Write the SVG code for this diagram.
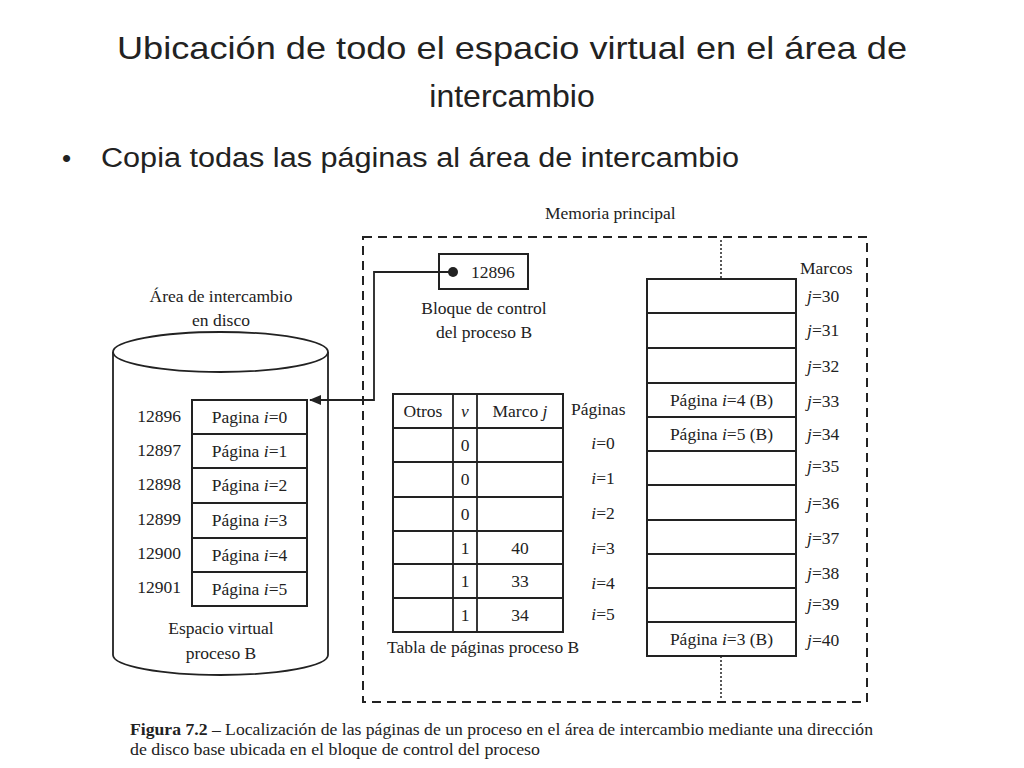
<svg xmlns="http://www.w3.org/2000/svg" width="1024" height="768" viewBox="0 0 1024 768">
<style>
.t{font-family:"Liberation Sans",Arial,sans-serif;fill:#222}
.s{font-family:"Liberation Serif","Times New Roman",serif;font-size:17.5px;fill:#222}
.m{text-anchor:middle}
.b{fill:#fff;stroke:#222;stroke-width:2}
.ln{fill:none;stroke:#222;stroke-width:1.8}
.i{font-style:italic}
</style>
<defs>
<marker id="ah" markerWidth="12" markerHeight="10" refX="11" refY="5" orient="auto" markerUnits="userSpaceOnUse">
<path d="M0,0 L12,5 L0,10 z" fill="#222"/>
</marker>
</defs>
<rect width="1024" height="768" fill="#fff"/>
<g id="title">
<text class="t m" x="512" y="59" font-size="32" textLength="790" lengthAdjust="spacingAndGlyphs">Ubicación de todo el espacio virtual en el área de</text>
<text class="t m" x="512" y="107" font-size="32">intercambio</text>
</g>
<g id="bullet">
<text class="t" x="62" y="167" font-size="26">•</text>
<text class="t" x="101" y="167" font-size="27" textLength="638" lengthAdjust="spacingAndGlyphs">Copia todas las páginas al área de intercambio</text>
</g>
<g id="memoria">
<text class="s" x="545" y="219">Memoria principal</text>
<rect x="363" y="237" width="504" height="465" fill="none" stroke="#222" stroke-width="2" stroke-dasharray="9,6"/>
</g>
<g id="disco">
<text class="s m" x="221" y="302">Área de intercambio</text>
<text class="s m" x="221" y="326">en disco</text>
<path class="ln" d="M113,352 L113,655 A107.5,20 0 0 0 328,655 L328,352"/>
<ellipse cx="220.5" cy="352" rx="107.5" ry="20" fill="#fff" stroke="#222" stroke-width="1.8"/>
<text class="s m" x="221" y="634">Espacio virtual</text>
<text class="s m" x="221" y="659">proceso B</text>
</g>
<g id="paginas-disco">
<rect class="b" x="192" y="400" width="115" height="206"/>
<g class="ln">
<line x1="192" y1="434" x2="307" y2="434"/>
<line x1="192" y1="468" x2="307" y2="468"/>
<line x1="192" y1="503" x2="307" y2="503"/>
<line x1="192" y1="538" x2="307" y2="538"/>
<line x1="192" y1="572" x2="307" y2="572"/>
</g>
<text class="s m" x="249.5" y="423">Pagina <tspan class="i">i</tspan>=0</text>
<text class="s m" x="249.5" y="457">Página <tspan class="i">i</tspan>=1</text>
<text class="s m" x="249.5" y="491">Página <tspan class="i">i</tspan>=2</text>
<text class="s m" x="249.5" y="526">Página <tspan class="i">i</tspan>=3</text>
<text class="s m" x="249.5" y="561">Página <tspan class="i">i</tspan>=4</text>
<text class="s m" x="249.5" y="595">Página <tspan class="i">i</tspan>=5</text>
<text class="s m" x="159" y="422">12896</text>
<text class="s m" x="159" y="456">12897</text>
<text class="s m" x="159" y="490">12898</text>
<text class="s m" x="159" y="525">12899</text>
<text class="s m" x="159" y="559">12900</text>
<text class="s m" x="159" y="593">12901</text>
</g>
<g id="bcp">
<rect class="b" x="439" y="254" width="89" height="35"/>
<circle cx="453" cy="272" r="5" fill="#222"/>
<text class="s" x="471" y="278">12896</text>
<text class="s m" x="484" y="314">Bloque de control</text>
<text class="s m" x="484" y="338">del proceso B</text>
</g>
<g id="connectors">
<path class="ln" d="M453,272 L374,272 L374,400 L310,400" marker-end="url(#ah)"/>
<line x1="721" y1="240" x2="721" y2="279" stroke="#222" stroke-width="1.5" stroke-dasharray="2,2"/>
<line x1="721" y1="656" x2="721" y2="698" stroke="#222" stroke-width="1.5" stroke-dasharray="2,2"/>
</g>
<g id="tabla">
<rect class="b" x="393" y="394" width="170" height="238"/>
<g class="ln">
<line x1="453" y1="394" x2="453" y2="632"/>
<line x1="477" y1="394" x2="477" y2="632"/>
<line x1="393" y1="428" x2="563" y2="428"/>
<line x1="393" y1="462" x2="563" y2="462"/>
<line x1="393" y1="497" x2="563" y2="497"/>
<line x1="393" y1="531" x2="563" y2="531"/>
<line x1="393" y1="564" x2="563" y2="564"/>
<line x1="393" y1="598" x2="563" y2="598"/>
</g>
<text class="s m" x="423" y="417">Otros</text>
<text class="s m i" x="465" y="417">v</text>
<text class="s m" x="520" y="417">Marco <tspan class="i">j</tspan></text>
<text class="s m" x="465" y="451">0</text>
<text class="s m" x="465" y="485">0</text>
<text class="s m" x="465" y="520">0</text>
<text class="s m" x="465" y="554">1</text>
<text class="s m" x="465" y="587">1</text>
<text class="s m" x="465" y="621">1</text>
<text class="s m" x="520" y="554">40</text>
<text class="s m" x="520" y="587">33</text>
<text class="s m" x="520" y="621">34</text>
<text class="s" x="571" y="415">Páginas</text>
<text class="s m" x="603" y="449"><tspan class="i">i</tspan>=0</text>
<text class="s m" x="603" y="484"><tspan class="i">i</tspan>=1</text>
<text class="s m" x="603" y="519"><tspan class="i">i</tspan>=2</text>
<text class="s m" x="603" y="554"><tspan class="i">i</tspan>=3</text>
<text class="s m" x="603" y="589"><tspan class="i">i</tspan>=4</text>
<text class="s m" x="603" y="620"><tspan class="i">i</tspan>=5</text>
<text class="s" x="387" y="653">Tabla de páginas proceso B</text>
</g>
<g id="marcos">
<rect class="b" x="647" y="279" width="149" height="377"/>
<g class="ln">
<line x1="647" y1="313" x2="796" y2="313"/>
<line x1="647" y1="348" x2="796" y2="348"/>
<line x1="647" y1="383" x2="796" y2="383"/>
<line x1="647" y1="417" x2="796" y2="417"/>
<line x1="647" y1="451" x2="796" y2="451"/>
<line x1="647" y1="485" x2="796" y2="485"/>
<line x1="647" y1="520" x2="796" y2="520"/>
<line x1="647" y1="554" x2="796" y2="554"/>
<line x1="647" y1="588" x2="796" y2="588"/>
<line x1="647" y1="622" x2="796" y2="622"/>
</g>
<text class="s m" x="721.5" y="406">Página <tspan class="i">i</tspan>=4 (B)</text>
<text class="s m" x="721.5" y="440">Página <tspan class="i">i</tspan>=5 (B)</text>
<text class="s m" x="721.5" y="645">Página <tspan class="i">i</tspan>=3 (B)</text>
<text class="s" x="800" y="274">Marcos</text>
<text class="s" x="807" y="302"><tspan class="i">j</tspan>=30</text>
<text class="s" x="807" y="336"><tspan class="i">j</tspan>=31</text>
<text class="s" x="807" y="372"><tspan class="i">j</tspan>=32</text>
<text class="s" x="807" y="407"><tspan class="i">j</tspan>=33</text>
<text class="s" x="807" y="440"><tspan class="i">j</tspan>=34</text>
<text class="s" x="807" y="472"><tspan class="i">j</tspan>=35</text>
<text class="s" x="807" y="509"><tspan class="i">j</tspan>=36</text>
<text class="s" x="807" y="544"><tspan class="i">j</tspan>=37</text>
<text class="s" x="807" y="579"><tspan class="i">j</tspan>=38</text>
<text class="s" x="807" y="610"><tspan class="i">j</tspan>=39</text>
<text class="s" x="807" y="646"><tspan class="i">j</tspan>=40</text>
</g>
<g id="caption">
<text class="s" x="130" y="735" font-size="15.5" textLength="743" lengthAdjust="spacingAndGlyphs"><tspan font-weight="bold">Figura 7.2</tspan> – Localización de las páginas de un proceso en el área de intercambio mediante una dirección</text>
<text class="s" x="130" y="755" font-size="15.5" textLength="410" lengthAdjust="spacingAndGlyphs">de disco base ubicada en el bloque de control del proceso</text>
</g>
</svg>
